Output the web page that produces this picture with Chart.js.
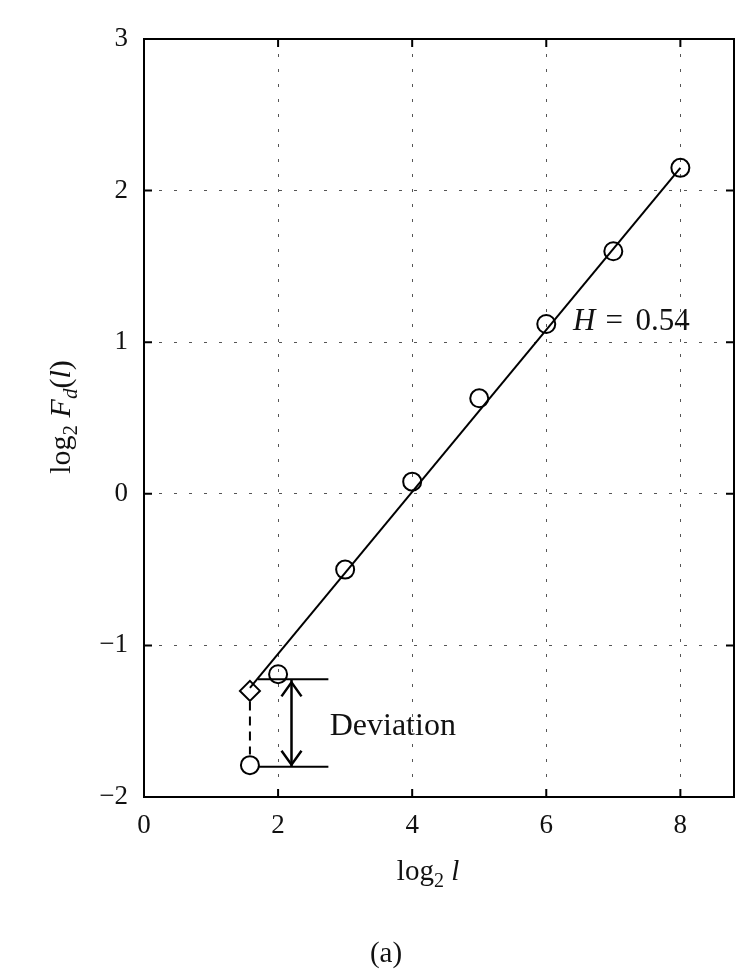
<!DOCTYPE html>
<html>
<head>
<meta charset="utf-8">
<script src="https://cdn.jsdelivr.net/npm/chart.js@4.4.1/dist/chart.umd.min.js"></script>
<style>
  body { margin: 0; background: #fff; }
  canvas { display: block; }
</style>
</head>
<body>
<canvas id="myChart" width="752" height="975"></canvas>
<script>
// measured points, log2 l vs log2 Fd(l)
var logL = [2, 3, 4, 5, 6, 7, 8];
var logF = [-1.19, -0.50, 0.08, 0.63, 1.12, 1.60, 2.15];

// fitted line, H = 0.54
var fitX = [1.58, 8];
var fitY = [-1.28, 2.15];

// extrapolated point (diamond) and the real value below it (circle)
var extraX = [1.58];
var diamondY = [-1.30];
var circleY = [-1.79];

// deviation marker
var dashX = [1.58, 1.58];
var dashY = [-1.37, -1.72];
var guideX = [1.70, 2.75];
var guideTopY = -1.224;
var guideLowY = -1.80;
var arrowX = 2.20;
var arrowY = [-1.224, -1.80];

var xTicks = [0, 2, 4, 6, 8];
var yTicks = [-2, -1, 0, 1, 2, 3];

var serif = "'Liberation Serif', 'DejaVu Serif', serif";

function pts(xs, ys) {
    return xs.map(function (x, i) { return { x: x, y: ys[i] }; });
}

function drawRich(ctx, segs, x, y, big, small) {
    // segs: [text, italic, sub]
    var w = 0;
    segs.forEach(function (s) {
        ctx.font = (s[1] ? 'italic ' : '') + (s[2] ? small : big) + 'px ' + serif;
        w += ctx.measureText(s[0]).width;
    });
    var cx = x - w / 2;
    segs.forEach(function (s) {
        ctx.font = (s[1] ? 'italic ' : '') + (s[2] ? small : big) + 'px ' + serif;
        ctx.fillText(s[0], cx, y + (s[2] ? 7 : 0));
        cx += ctx.measureText(s[0]).width;
    });
}

var extras = {
    id: 'extras',
    afterDatasetsDraw: function (chart) {
        var ctx = chart.ctx;
        var xs = chart.scales.x, ys = chart.scales.y;
        var a = chart.chartArea;
        ctx.save();
        ctx.strokeStyle = '#000';
        ctx.fillStyle = '#111';

        // frame
        ctx.lineWidth = 2;
        ctx.strokeRect(a.left, a.top, a.right - a.left, a.bottom - a.top);

        // inward ticks on all sides
        xTicks.forEach(function (v) {
            var px = xs.getPixelForValue(v);
            ctx.beginPath();
            ctx.moveTo(px, a.bottom); ctx.lineTo(px, a.bottom - 8);
            ctx.moveTo(px, a.top); ctx.lineTo(px, a.top + 8);
            ctx.stroke();
        });
        yTicks.forEach(function (v) {
            var py = ys.getPixelForValue(v);
            ctx.beginPath();
            ctx.moveTo(a.left, py); ctx.lineTo(a.left + 8, py);
            ctx.moveTo(a.right, py); ctx.lineTo(a.right - 8, py);
            ctx.stroke();
        });

        // arrow heads
        var ax = xs.getPixelForValue(arrowX);
        var top = ys.getPixelForValue(arrowY[0]) + 3;
        var bot = ys.getPixelForValue(arrowY[1]) - 2;
        ctx.lineWidth = 2.5;
        ctx.beginPath();
        ctx.moveTo(ax - 10, top + 14); ctx.lineTo(ax, top); ctx.lineTo(ax + 10, top + 14);
        ctx.moveTo(ax - 10, bot - 14); ctx.lineTo(ax, bot); ctx.lineTo(ax + 10, bot - 14);
        ctx.stroke();

        // annotations
        ctx.textBaseline = 'alphabetic';
        ctx.textAlign = 'left';
        var hx = xs.getPixelForValue(6.40), hy = ys.getPixelForValue(1.08);
        ctx.font = 'italic 31px ' + serif;
        ctx.fillText('H', hx, hy);
        var hw = ctx.measureText('H').width;
        ctx.font = '31px ' + serif;
        ctx.fillText('=', hx + hw + 10, hy);
        ctx.fillText('0.54', hx + hw + 40, hy);

        ctx.font = '32px ' + serif;
        ctx.fillText('Deviation', xs.getPixelForValue(2.77), ys.getPixelForValue(-1.59));

        // axis titles
        drawRich(ctx, [['log', false, false], ['2', false, true], [' ', false, false], ['l', true, false]], 428, 880, 29, 20);

        ctx.save();
        ctx.translate(70, 417);
        ctx.rotate(-Math.PI / 2);
        drawRich(ctx, [['log', false, false], ['2', false, true], [' ', false, false], ['F', true, false],
            ['d', true, true], ['(', false, false], ['l', true, false], [')', false, false]], 0, 0, 30, 21);
        ctx.restore();

        ctx.textAlign = 'center';
        ctx.font = '29px ' + serif;
        ctx.fillText('(a)', 386, 962);
        ctx.restore();
    }
};

var ctx = document.getElementById('myChart').getContext('2d');
var chart = new Chart(ctx, {
    type: 'scatter',
    data: {
        datasets: [
            { type: 'line', data: pts(fitX, fitY), borderColor: '#000', borderWidth: 2, pointRadius: 0, fill: false },
            { data: pts(logL, logF), pointStyle: 'circle', pointRadius: 9, borderColor: '#000', borderWidth: 2, backgroundColor: 'rgba(0,0,0,0)' },
            { data: pts(extraX, circleY), pointStyle: 'circle', pointRadius: 9, borderColor: '#000', borderWidth: 2, backgroundColor: 'rgba(0,0,0,0)' },
            { data: pts(extraX, diamondY), pointStyle: 'rectRot', pointRadius: 10, borderColor: '#000', borderWidth: 2, backgroundColor: 'rgba(0,0,0,0)' },
            { type: 'line', data: pts(dashX, dashY), borderColor: '#000', borderWidth: 2, borderDash: [9, 6], pointRadius: 0 },
            { type: 'line', data: pts(guideX, [guideTopY, guideTopY]), borderColor: '#000', borderWidth: 2, pointRadius: 0 },
            { type: 'line', data: pts(guideX, [guideLowY, guideLowY]), borderColor: '#000', borderWidth: 2, pointRadius: 0 },
            { type: 'line', data: pts([arrowX, arrowX], arrowY), borderColor: '#000', borderWidth: 2.5, pointRadius: 0 }
        ]
    },
    options: {
        responsive: false,
        animation: false,
        layout: { padding: { left: 0, right: 18, top: 39, bottom: 0 } },
        plugins: { legend: { display: false }, tooltip: { enabled: false } },
        scales: {
            x: {
                type: 'linear', min: 0, max: 8.8,
                afterBuildTicks: function (s) { s.ticks = xTicks.map(function (v) { return { value: v }; }); },
                afterFit: function (s) { s.height = 178; },
                grid: { color: '#555', lineWidth: 1, drawTicks: false },
                border: { display: false, dash: [3, 12] },
                ticks: { padding: 13, color: '#111', font: { family: serif, size: 27 }, maxRotation: 0 }
            },
            y: {
                type: 'linear', min: -2, max: 3,
                afterBuildTicks: function (s) { s.ticks = yTicks.map(function (v) { return { value: v }; }); },
                afterFit: function (s) { s.width = 144; },
                grid: { color: '#555', lineWidth: 1, drawTicks: false },
                border: { display: false, dash: [3, 12] },
                ticks: {
                    padding: 16, color: '#111', font: { family: serif, size: 27 },
                    callback: function (v) { return v < 0 ? '\u2212' + Math.abs(v) : String(v); }
                }
            }
        }
    },
    plugins: [extras]
});
</script>
</body>
</html>
